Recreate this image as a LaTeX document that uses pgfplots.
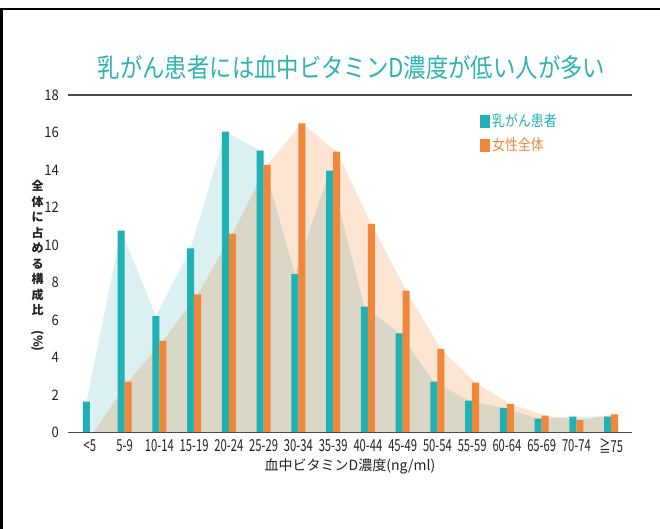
\documentclass[border=0pt]{standalone}
\usepackage{fontspec}
\setmainfont{Noto Sans CJK JP}
\newfontfamily\cond{Noto Sans CJK JP}[FakeStretch=0.68]
\newfontfamily\ynum{Noto Sans CJK JP}[FakeStretch=0.9]
\newfontfamily\narrowjp{Noto Sans CJK JP}[FakeStretch=0.86]
\usepackage{pgfplots}
\pgfplotsset{compat=1.18}
\usepackage{pgfplotstable}

\definecolor{barteal}{HTML}{1FB1B3}
\definecolor{barorange}{HTML}{F0873A}
\definecolor{areateal}{HTML}{DDF0F1}
\definecolor{areapeach}{HTML}{FCE5D2}
\definecolor{titleteal}{HTML}{30B3B5}
\definecolor{axisgrey}{HTML}{4A4A4A}
\definecolor{labelgrey}{HTML}{222222}

% share (%) of each serum vitamin D class: breast cancer patients vs. all women
\pgfplotstableread{
x teal women
0 1.64 0.00
1 10.76 2.71
2 6.21 4.88
3 9.82 7.37
4 16.04 10.59
5 15.03 14.27
6 8.44 16.49
7 13.96 14.98
8 6.71 11.12
9 5.29 7.56
10 2.71 4.45
11 1.70 2.66
12 1.31 1.52
13 0.74 0.90
14 0.84 0.67
15 0.84 0.97
}\vitd

\begin{document}
\begin{tikzpicture}
\useasboundingbox (0,0) rectangle (660pt,529pt);
\fill[white] (0,0) rectangle (660pt,529pt);
\draw[line width=2.6pt, line join=miter] (1.3pt,0pt) -- (1.3pt,520pt) -- (660pt,520pt);

\node[text=titleteal, font=\narrowjp\fontsize{26}{26}\selectfont] at (351.5pt,461pt)
  {乳がん患者には血中ビタミンD濃度が低い人が多い};

\begin{axis}[
  at={(68pt,96.5pt)}, anchor=south west,
  scale only axis, width=564pt, height=337.5pt,
  xmin=-0.63, xmax=15.6, ymin=0, ymax=18,
  axis line style={draw=none},
  tick style={draw=none},
  xtick={0,...,15},
  xticklabels={<5,5-9,10-14,15-19,20-24,25-29,30-34,35-39,40-44,45-49,50-54,55-59,60-64,65-69,70-74,≧75},
  ytick={0,2,...,18},
  yticklabel={\ynum\fontsize{14.5}{14.5}\selectfont\pgfmathprintnumber[assume math mode=true]{\tick}},
  xticklabel style={font=\cond\fontsize{16.5}{16.5}\selectfont, text=labelgrey, anchor=center, inner sep=0pt, yshift=-13pt},
  yticklabel style={text=labelgrey, anchor=east, inner sep=0pt, xshift=-9pt},
  xlabel={血中ビタミンD濃度(ng/ml)},
  xlabel style={font=\fontsize{14}{14}\selectfont, text=labelgrey, at={(axis description cs:0.5,-0.099)}, anchor=center},
  ylabel={全\\体\\に\\占\\め\\る\\構\\成\\比\\\rotatebox{-90}{(\%)}},
  ylabel style={font=\bfseries\fontsize{12}{15.5}\selectfont, text=labelgrey, align=center, rotate=-90, at={(axis description cs:-0.054,0.493)}, anchor=center},
  legend style={at={(axis description cs:0.7305,0.95)}, anchor=north west, draw=none, fill=none, inner sep=0pt, row sep=6pt,
    font=\narrowjp\fontsize{15}{15}\selectfont,
    /tikz/every even column/.append style={column sep=5pt}},
  legend cell align=left,
]
% outlines drawn as connected areas behind the bars
\addplot[forget plot, draw=none, fill=areateal] table[x expr=\thisrow{x}-0.1, y=teal]{\vitd} \closedcycle;
\addplot[forget plot, draw=none, fill=areapeach, blend mode=multiply] table[x expr=\thisrow{x}+0.1, y=women]{\vitd} \closedcycle;

\addplot[ybar, bar width=0.2, bar shift=-0.1, fill=barteal, draw=none,
  legend image code/.code={\fill[barteal] (0pt,-7pt) rectangle (10pt,6pt);}]
  table[x=x, y=teal]{\vitd};
\addlegendentry{\textcolor{barteal}{乳がん患者}}
\addplot[ybar, bar width=0.2, bar shift=0.1, fill=barorange, draw=none,
  legend image code/.code={\fill[barorange] (0pt,-7pt) rectangle (10pt,6pt);}]
  table[x=x, y=women]{\vitd};
\addlegendentry{\textcolor{barorange}{女性全体}}

\draw[axisgrey, line width=1.3pt] (rel axis cs:0,0) -- (rel axis cs:1,0);
\draw[axisgrey, line width=1.1pt] (rel axis cs:0,1) -- (rel axis cs:1,1);
\end{axis}
\end{tikzpicture}
\end{document}
